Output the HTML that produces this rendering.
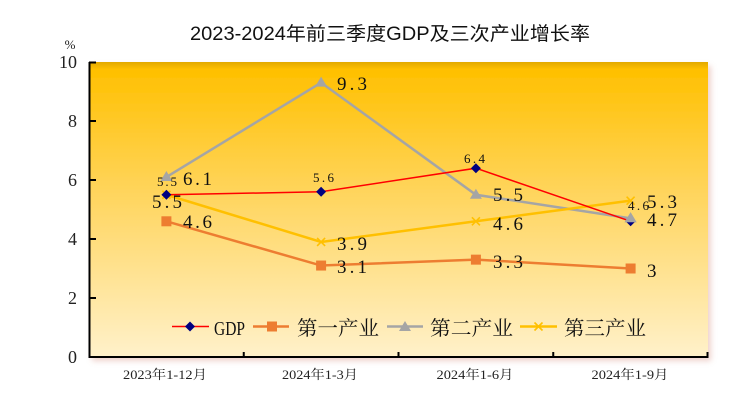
<!DOCTYPE html>
<html><head><meta charset="utf-8">
<style>
html,body{margin:0;padding:0;background:#fff;}
svg{display:block;}
.ser{font-family:"Liberation Serif","Noto Serif CJK SC",serif;}
.cjk{font-family:"Liberation Serif","Noto Serif CJK SC",serif;}
.ttl{font-family:"Liberation Sans","Noto Sans CJK SC",sans-serif;}
</style></head>
<body>
<svg width="732" height="402" viewBox="0 0 732 402" xmlns="http://www.w3.org/2000/svg">
<defs>
<linearGradient id="bg" x1="0" y1="0" x2="0" y2="1">
<stop offset="0" stop-color="#E2A900"/>
<stop offset="0.025" stop-color="#FFC000"/>
<stop offset="0.45" stop-color="#FFD55E"/>
<stop offset="1" stop-color="#FFF1CA"/>
</linearGradient>
<filter id="sh" x="-5%" y="-5%" width="115%" height="120%">
<feGaussianBlur in="SourceAlpha" stdDeviation="3"/>
<feOffset dx="3" dy="4" result="b"/>
<feFlood flood-color="#d08070" flood-opacity="0.35"/>
<feComposite in2="b" operator="in"/>
<feMerge><feMergeNode/><feMergeNode in="SourceGraphic"/></feMerge>
</filter>
</defs>
<rect x="0" y="0" width="732" height="402" fill="#fff"/>
<text class="ttl" x="390" y="40" text-anchor="middle" font-size="19" fill="#111" textLength="400" lengthAdjust="spacingAndGlyphs">2023-2024年前三季度GDP及三次产业增长率</text>

<rect x="89" y="62" width="619" height="295" fill="url(#bg)" filter="url(#sh)"/>

<!-- axes -->
<line x1="89.5" y1="62" x2="89.5" y2="358" stroke="#000" stroke-width="2"/>
<line x1="88.5" y1="357" x2="708.5" y2="357" stroke="#000" stroke-width="2"/>
<g stroke="#000" stroke-width="2">
<line x1="89" y1="62.5" x2="96" y2="62.5"/>
<line x1="89" y1="121" x2="96" y2="121"/>
<line x1="89" y1="180" x2="96" y2="180"/>
<line x1="89" y1="239" x2="96" y2="239"/>
<line x1="89" y1="298" x2="96" y2="298"/>
<line x1="243.75" y1="352" x2="243.75" y2="357"/>
<line x1="398.5" y1="352" x2="398.5" y2="357"/>
<line x1="553.25" y1="352" x2="553.25" y2="357"/>
<line x1="707.5" y1="352" x2="707.5" y2="357"/>
</g>
<g class="ser" font-size="18" fill="#222" text-anchor="end">
<text x="77" y="68">10</text>
<text x="77" y="127">8</text>
<text x="77" y="186">6</text>
<text x="77" y="245">4</text>
<text x="77" y="304">2</text>
<text x="77" y="363">0</text>
</g>
<text class="ser" x="70" y="49" font-size="13" text-anchor="middle" fill="#222">%</text>

<g class="cjk" font-size="13" fill="#222" text-anchor="middle">
<text x="165" y="379" textLength="84" lengthAdjust="spacingAndGlyphs">2023年1-12月</text>
<text x="320" y="379" textLength="76" lengthAdjust="spacingAndGlyphs">2024年1-3月</text>
<text x="475" y="379" textLength="77" lengthAdjust="spacingAndGlyphs">2024年1-6月</text>
<text x="630" y="379" textLength="77" lengthAdjust="spacingAndGlyphs">2024年1-9月</text>
</g>

<!-- series lines -->
<polyline points="166.4,221.3 321.1,265.55 475.9,259.65 630.6,268.5" fill="none" stroke="#ED7D31" stroke-width="2.5"/>
<polyline points="166.4,177.05 321.1,82.65 475.9,194.75 630.6,218.35" fill="none" stroke="#A5A5A5" stroke-width="2.5"/>
<polyline points="166.4,194.75 321.1,241.95 475.9,221.3 630.6,200.65" fill="none" stroke="#FFC000" stroke-width="2.5"/>
<polyline points="166.4,194.75 321.1,191.8 475.9,168.2 630.6,221.3" fill="none" stroke="#FF0000" stroke-width="1.5"/>

<g fill="#ED7D31">
<rect x="161.4" y="216.3" width="10" height="10"/>
<rect x="316.1" y="260.55" width="10" height="10"/>
<rect x="470.9" y="254.65" width="10" height="10"/>
<rect x="625.6" y="263.5" width="10" height="10"/>
</g>
<g fill="#A5A5A5">
<polygon points="166.4,171 172.4,181 160.4,181"/>
<polygon points="321.1,76.6 327.1,86.6 315.1,86.6"/>
<polygon points="475.9,188.7 481.9,198.7 469.9,198.7"/>
<polygon points="630.6,212.3 636.6,222.3 624.6,222.3"/>
</g>
<g stroke="#FFC000" stroke-width="1.6">
<path d="M162.4,190.75 l8,8 M170.4,190.75 l-8,8"/>
<path d="M317.1,237.95 l8,8 M325.1,237.95 l-8,8"/>
<path d="M471.9,217.3 l8,8 M479.9,217.3 l-8,8"/>
<path d="M626.6,196.65 l8,8 M634.6,196.65 l-8,8"/>
</g>
<g fill="#000080">
<polygon points="166.4,189.75 171.4,194.75 166.4,199.75 161.4,194.75"/>
<polygon points="321.1,186.8 326.1,191.8 321.1,196.8 316.1,191.8"/>
<polygon points="475.9,163.2 480.9,168.2 475.9,173.2 470.9,168.2"/>
<polygon points="630.6,216.3 635.6,221.3 630.6,226.3 625.6,221.3"/>
</g>
<polygon points="630.6,212.3 636.6,222.3 624.6,222.3" fill="#A5A5A5"/>

<!-- data labels -->
<g class="ser" fill="#111">
<g font-size="13">
<text x="157" y="186" textLength="20" lengthAdjust="spacing">5.5</text>
<text x="313" y="182" textLength="21" lengthAdjust="spacing">5.6</text>
<text x="464" y="163" textLength="21" lengthAdjust="spacing">6.4</text>
<text x="628" y="210" textLength="21" lengthAdjust="spacing">4.6</text>
</g>
<g font-size="19">
<text x="183" y="185" textLength="29" lengthAdjust="spacing">6.1</text>
<text x="152" y="208" textLength="30" lengthAdjust="spacing">5.5</text>
<text x="183" y="228" textLength="29" lengthAdjust="spacing">4.6</text>
<text x="337" y="90" textLength="30" lengthAdjust="spacing">9.3</text>
<text x="337" y="250" textLength="30" lengthAdjust="spacing">3.9</text>
<text x="337" y="273" textLength="30" lengthAdjust="spacing">3.1</text>
<text x="493" y="201" textLength="30" lengthAdjust="spacing">5.5</text>
<text x="493" y="230" textLength="30" lengthAdjust="spacing">4.6</text>
<text x="493" y="268" textLength="30" lengthAdjust="spacing">3.3</text>
<text x="647" y="208" textLength="30" lengthAdjust="spacing">5.3</text>
<text x="647" y="226" textLength="30" lengthAdjust="spacing">4.7</text>
<text x="647" y="277">3</text>
</g>
</g>

<!-- legend -->
<line x1="172" y1="326.5" x2="209" y2="326.5" stroke="#FF0000" stroke-width="1.5"/>
<polygon points="190,321.5 195,326.5 190,331.5 185,326.5" fill="#000080"/>
<text class="ser" x="214" y="335" font-size="20" fill="#111" textLength="31" lengthAdjust="spacingAndGlyphs">GDP</text>

<line x1="253" y1="326.5" x2="289" y2="326.5" stroke="#ED7D31" stroke-width="2.5"/>
<rect x="267" y="321.5" width="10" height="10" fill="#ED7D31"/>
<text class="cjk" x="297" y="335" font-size="20" fill="#111" textLength="82" lengthAdjust="spacingAndGlyphs">第一产业</text>

<line x1="387" y1="326.5" x2="423" y2="326.5" stroke="#A5A5A5" stroke-width="2.5"/>
<polygon points="405,321 411,331 399,331" fill="#A5A5A5"/>
<text class="cjk" x="430" y="335" font-size="20" fill="#111" textLength="83" lengthAdjust="spacingAndGlyphs">第二产业</text>

<line x1="520" y1="326.5" x2="557" y2="326.5" stroke="#FFC000" stroke-width="2.5"/>
<path d="M534.5,322.5 l8,8 M542.5,322.5 l-8,8" stroke="#FFC000" stroke-width="1.6"/>
<text class="cjk" x="564" y="335" font-size="20" fill="#111" textLength="82" lengthAdjust="spacingAndGlyphs">第三产业</text>
</svg>
</body></html>
